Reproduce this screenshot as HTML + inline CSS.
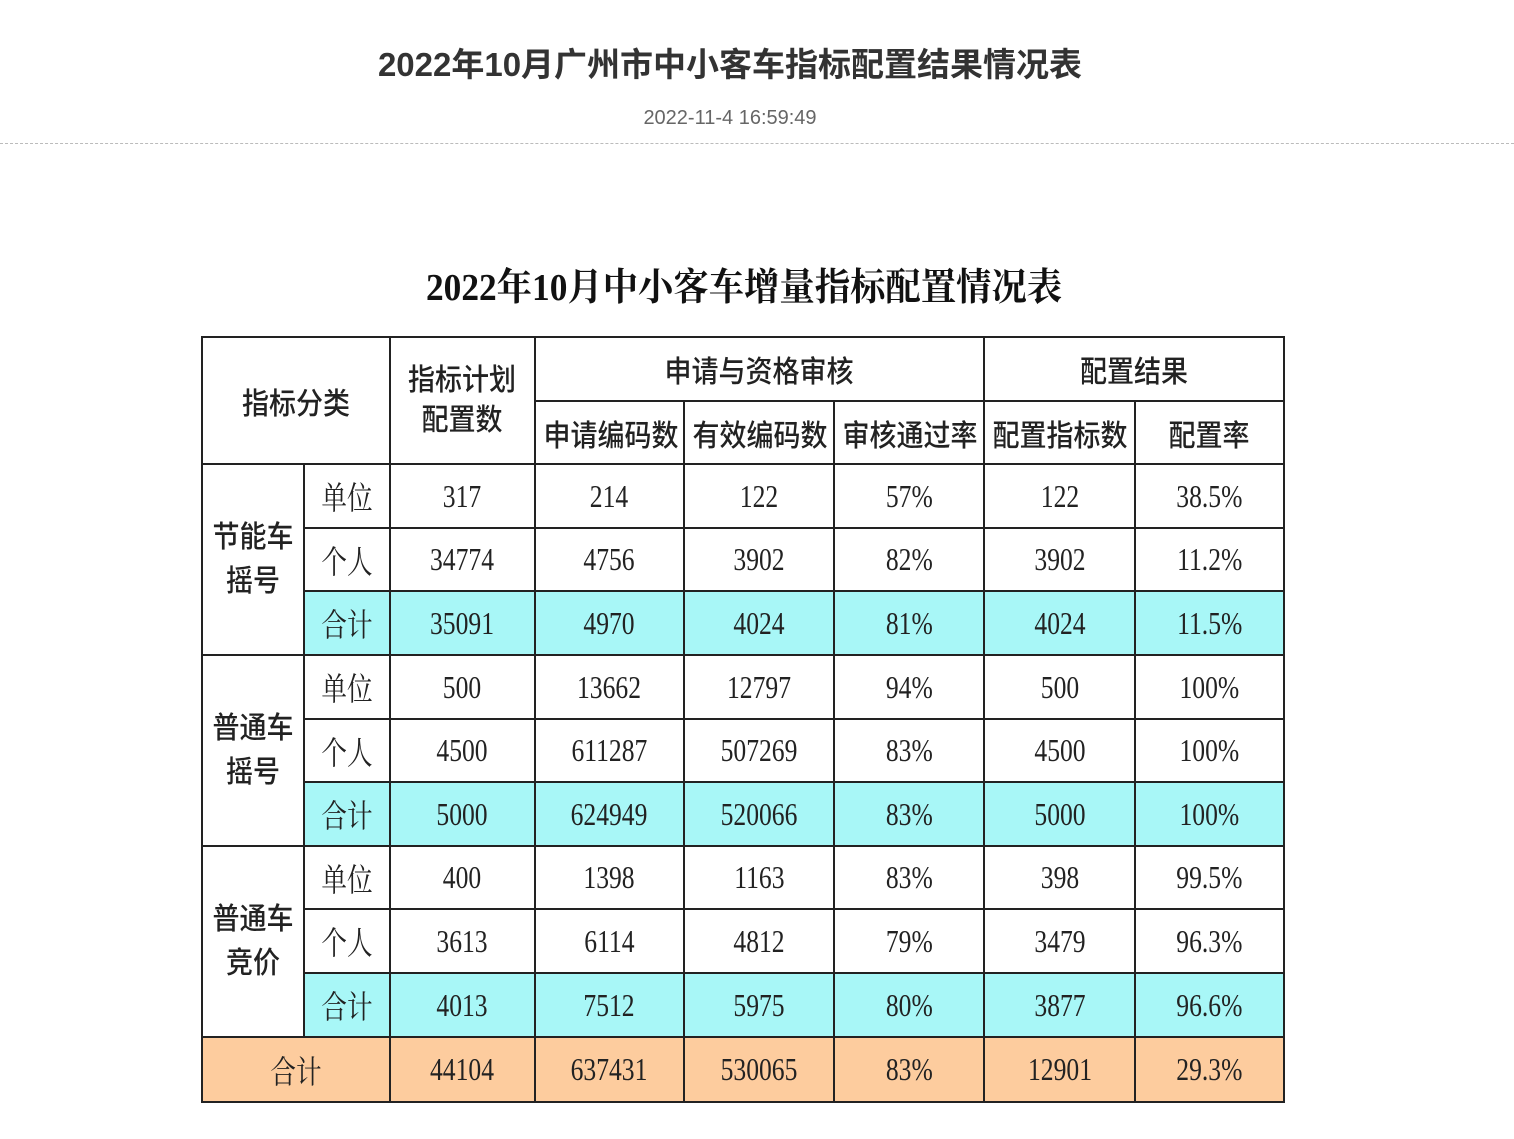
<!DOCTYPE html>
<html><head><meta charset="utf-8">
<style>
body{margin:0;background:#fff;width:1514px;height:1139px;overflow:hidden;position:relative;}
.t1{position:absolute;left:0;width:1460px;top:38px;text-align:center;font:bold 33px "Liberation Sans","Noto Sans CJK SC",sans-serif;color:#333;}
.dt{position:absolute;left:0;width:1460px;top:107px;text-align:center;font:20px "Liberation Sans",sans-serif;color:#666;}
.hr{position:absolute;left:0;width:1514px;top:143px;border-top:1px dashed #bbb;}
.t2{position:absolute;left:426px;top:256px;width:660px;height:50px;font:bold 38px "Liberation Serif","Noto Serif CJK SC",serif;color:#111;white-space:nowrap;}
.t2 span{display:inline-block;transform:scaleX(0.93);transform-origin:left center;}
table{position:absolute;left:201px;top:336px;border-collapse:collapse;table-layout:fixed;width:1084px;}
td{border:2px solid #222;text-align:center;vertical-align:middle;padding:0;height:60px;overflow:hidden;white-space:nowrap;
 font:32px "Liberation Serif","Noto Serif CJK SC",serif;color:#222;}
td span{display:inline-block;transform:scaleX(0.8);}
.h{font:500 30px "Liberation Sans","Noto Sans CJK SC",sans-serif;}
.h span{transform:scaleX(0.9);}
.c{background:#a8f7f7;}
.o{background:#fdcc9e;}
</style></head><body>
<div class="t1">2022年10月广州市中小客车指标配置结果情况表</div>
<div class="dt">2022-11-4 16:59:49</div>
<div class="hr"></div>
<div class="t2"><span>2022年10月中小客车增量指标配置情况表</span></div>
<table>
<colgroup><col style="width:102px"><col style="width:86px"><col style="width:144px"><col style="width:149px"><col style="width:150px"><col style="width:150px"><col style="width:150px"><col style="width:149px"></colgroup>
<tr style="height:64px"><td class="h" colspan="2" rowspan="2"><span>指标分类</span></td><td class="h" rowspan="2" style="line-height:40px"><span>指标计划<br>配置数</span></td><td class="h" colspan="3"><span>申请与资格审核</span></td><td class="h" colspan="2"><span>配置结果</span></td></tr>
<tr style="height:63px"><td class="h"><span>申请编码数</span></td><td class="h"><span>有效编码数</span></td><td class="h"><span>审核通过率</span></td><td class="h"><span>配置指标数</span></td><td class="h"><span>配置率</span></td></tr>
<tr style="height:64px"><td class="h" rowspan="3" style="line-height:44px"><span>节能车<br>摇号</span></td><td><span>单位</span></td><td><span>317</span></td><td><span>214</span></td><td><span>122</span></td><td><span>57%</span></td><td><span>122</span></td><td><span>38.5%</span></td></tr>
<tr style="height:63px"><td><span>个人</span></td><td><span>34774</span></td><td><span>4756</span></td><td><span>3902</span></td><td><span>82%</span></td><td><span>3902</span></td><td><span>11.2%</span></td></tr>
<tr style="height:64px"><td class="c"><span>合计</span></td><td class="c"><span>35091</span></td><td class="c"><span>4970</span></td><td class="c"><span>4024</span></td><td class="c"><span>81%</span></td><td class="c"><span>4024</span></td><td class="c"><span>11.5%</span></td></tr>
<tr style="height:64px"><td class="h" rowspan="3" style="line-height:44px"><span>普通车<br>摇号</span></td><td><span>单位</span></td><td><span>500</span></td><td><span>13662</span></td><td><span>12797</span></td><td><span>94%</span></td><td><span>500</span></td><td><span>100%</span></td></tr>
<tr style="height:63px"><td><span>个人</span></td><td><span>4500</span></td><td><span>611287</span></td><td><span>507269</span></td><td><span>83%</span></td><td><span>4500</span></td><td><span>100%</span></td></tr>
<tr style="height:64px"><td class="c"><span>合计</span></td><td class="c"><span>5000</span></td><td class="c"><span>624949</span></td><td class="c"><span>520066</span></td><td class="c"><span>83%</span></td><td class="c"><span>5000</span></td><td class="c"><span>100%</span></td></tr>
<tr style="height:63px"><td class="h" rowspan="3" style="line-height:44px"><span>普通车<br>竞价</span></td><td><span>单位</span></td><td><span>400</span></td><td><span>1398</span></td><td><span>1163</span></td><td><span>83%</span></td><td><span>398</span></td><td><span>99.5%</span></td></tr>
<tr style="height:64px"><td><span>个人</span></td><td><span>3613</span></td><td><span>6114</span></td><td><span>4812</span></td><td><span>79%</span></td><td><span>3479</span></td><td><span>96.3%</span></td></tr>
<tr style="height:64px"><td class="c"><span>合计</span></td><td class="c"><span>4013</span></td><td class="c"><span>7512</span></td><td class="c"><span>5975</span></td><td class="c"><span>80%</span></td><td class="c"><span>3877</span></td><td class="c"><span>96.6%</span></td></tr>
<tr style="height:65px"><td class="o" colspan="2"><span>合计</span></td><td class="o"><span>44104</span></td><td class="o"><span>637431</span></td><td class="o"><span>530065</span></td><td class="o"><span>83%</span></td><td class="o"><span>12901</span></td><td class="o"><span>29.3%</span></td></tr>
</table>
</body></html>
